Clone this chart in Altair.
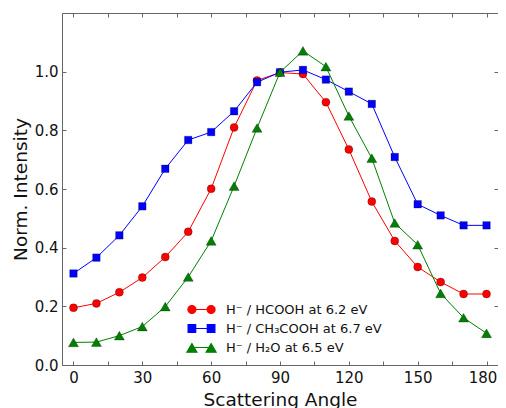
import altair as alt
import pandas as pd

# ---- data ----
angles = [0, 10, 20, 30, 40, 50, 60, 70, 80, 90, 100, 110, 120, 130, 140, 150, 160, 170, 180]
hcooh = [0.195, 0.210, 0.248, 0.298, 0.368, 0.454, 0.601, 0.810, 0.970, 0.997, 0.992,
         0.896, 0.735, 0.557, 0.423, 0.334, 0.283, 0.242, 0.242]
ch3cooh = [0.312, 0.366, 0.442, 0.541, 0.669, 0.767, 0.794, 0.865, 0.964, 0.998, 1.006,
           0.973, 0.932, 0.890, 0.709, 0.548, 0.510, 0.476, 0.476]
h2o = [0.077, 0.078, 0.100, 0.131, 0.199, 0.300, 0.423, 0.610, 0.808, 0.998, 1.071,
       1.017, 0.849, 0.705, 0.484, 0.410, 0.244, 0.161, 0.108]

labels = ["H\u207b / HCOOH at 6.2 eV",
          "H\u207b / CH\u2083COOH at 6.7 eV",
          "H\u207b / H\u2082O at 6.5 eV"]
colors = ["#ff0000", "#0000ff", "#008000"]
shapes = ["circle", "square", "triangle-up"]
sizes = [64, 56, 100]

x_ticks_major = [0, 30, 60, 90, 120, 150]
x_tick_last = [180]
x_ticks_minor = [0, 15, 30, 45, 60, 75, 90, 105, 120, 135, 150, 165, 180]
y_ticks = [0.0, 0.2, 0.4, 0.6, 0.8, 1.0]

W, H = 436, 352
FONT = "DejaVu Sans"


# ---- legend symbols (marker - line - marker), in symbol units ----
def circ(cx, cy, r):
    k = 0.5523 * r
    return (f"M{cx + r},{cy} C{cx + r},{cy + k} {cx + k},{cy + r} {cx},{cy + r} "
            f"C{cx - k},{cy + r} {cx - r},{cy + k} {cx - r},{cy} "
            f"C{cx - r},{cy - k} {cx - k},{cy - r} {cx},{cy - r} "
            f"C{cx + k},{cy - r} {cx + r},{cy - k} {cx + r},{cy} Z")


def sq(cx, cy, s):
    return f"M{cx - s},{cy - s} L{cx + s},{cy - s} L{cx + s},{cy + s} L{cx - s},{cy + s} Z"


def tri(cx, cy, w, h):
    return f"M{cx},{cy - h} L{cx + w},{cy + h} L{cx - w},{cy + h} Z"


D = 2.4
seg = f" M{-D},0 L{D},0"
legend_paths = [
    circ(-D, 0, 1) + " " + circ(D, 0, 1) + seg,
    sq(-D, 0, 0.95) + " " + sq(D, 0, 0.95) + seg,
    tri(-D, 0.1, 1.25, 1.08) + " " + tri(D, 0.1, 1.25, 1.08) + seg,
]

xscale = alt.Scale(domain=[-5, 185], nice=False, zero=False)
yscale = alt.Scale(domain=[0, 1.2], nice=False, zero=False)

main_x = alt.Axis(orient="bottom", values=x_ticks_major, ticks=False, domain=False, grid=False,
                  title="Scattering Angle", labelPadding=5, titlePadding=5)
main_y = alt.Axis(orient="left", values=y_ticks, format=".1f", ticks=False, domain=False,
                  grid=False, title="Norm. Intensity", labelPadding=4, titlePadding=4)
last_x = alt.Axis(orient="bottom", values=x_tick_last, ticks=False, domain=False, grid=False,
                  title=None, labelPadding=5, labelOffset=-4)


def tick_axis(orient, vals, off):
    return alt.Axis(orient=orient, offset=off, values=vals, labels=False, ticks=True,
                    tickSize=4, domain=False, grid=False, title=None)


axes = [
    (main_x, main_y),
    (tick_axis("top", x_ticks_minor, -H), tick_axis("right", y_ticks + [1.2], -W)),
    (tick_axis("bottom", x_ticks_minor, -H), tick_axis("left", y_ticks + [1.2], -W)),
]

legend_rows = [296, 315, 334]

series = [hcooh, ch3cooh, h2o]
layers = []
for i, vals in enumerate(series):
    df = pd.DataFrame({"angle": angles, "value": vals, "label": labels[i]})
    line = alt.Chart(df).mark_line(color=colors[i], strokeWidth=1).encode(
        x=alt.X("angle:Q", scale=xscale, axis=None),
        y=alt.Y("value:Q", scale=yscale, axis=None),
    )
    pts = alt.Chart(df).mark_point(filled=True, shape=shapes[i], size=sizes[i], opacity=1,
                                   stroke="#000000", strokeWidth=0.4, strokeOpacity=0.7).encode(
        x=alt.X("angle:Q", scale=xscale, axis=last_x if i == 0 else None),
        y=alt.Y("value:Q", scale=yscale, axis=None),
        color=alt.Color("label:N", scale=alt.Scale(domain=[labels[i]], range=[colors[i]]),
                        legend=alt.Legend(orient="none", legendX=133, legendY=legend_rows[i] - 6,
                                          title=None, padding=0, symbolType=legend_paths[i],
                                          symbolSize=64, symbolFillColor=colors[i],
                                          symbolStrokeColor=colors[i], symbolStrokeWidth=1.2,
                                          symbolOpacity=1, labelFont=FONT, labelFontSize=13,
                                          labelColor="#111111", labelOffset=18)),
    )
    layers.append(line)
    layers.append(pts)

# attach axes to the first three line layers
for k, (ax_x, ax_y) in enumerate(axes):
    df = pd.DataFrame({"angle": angles, "value": series[k]})
    layers[2 * k] = alt.Chart(df).mark_line(color=colors[k], strokeWidth=1).encode(
        x=alt.X("angle:Q", scale=xscale, axis=ax_x),
        y=alt.Y("value:Q", scale=yscale, axis=ax_y),
    )

chart = alt.layer(*layers).resolve_scale(color="independent").resolve_axis(
    x="independent", y="independent"
).properties(
    width=W, height=H,
    autosize=alt.AutoSizeParams(type="none"),
    padding={"left": 54, "top": 5, "right": 0, "bottom": 48},
).configure_view(
    stroke="#666666", strokeWidth=1
).configure_axis(
    labelFont=FONT, labelFontSize=15, labelColor="#111111",
    titleFont=FONT, titleFontSize=18.5, titleFontWeight="normal", titleColor="#111111",
    tickColor="#666666", tickWidth=1,
)

chart.save("out.html", embed_options={"renderer": "svg", "actions": False})
